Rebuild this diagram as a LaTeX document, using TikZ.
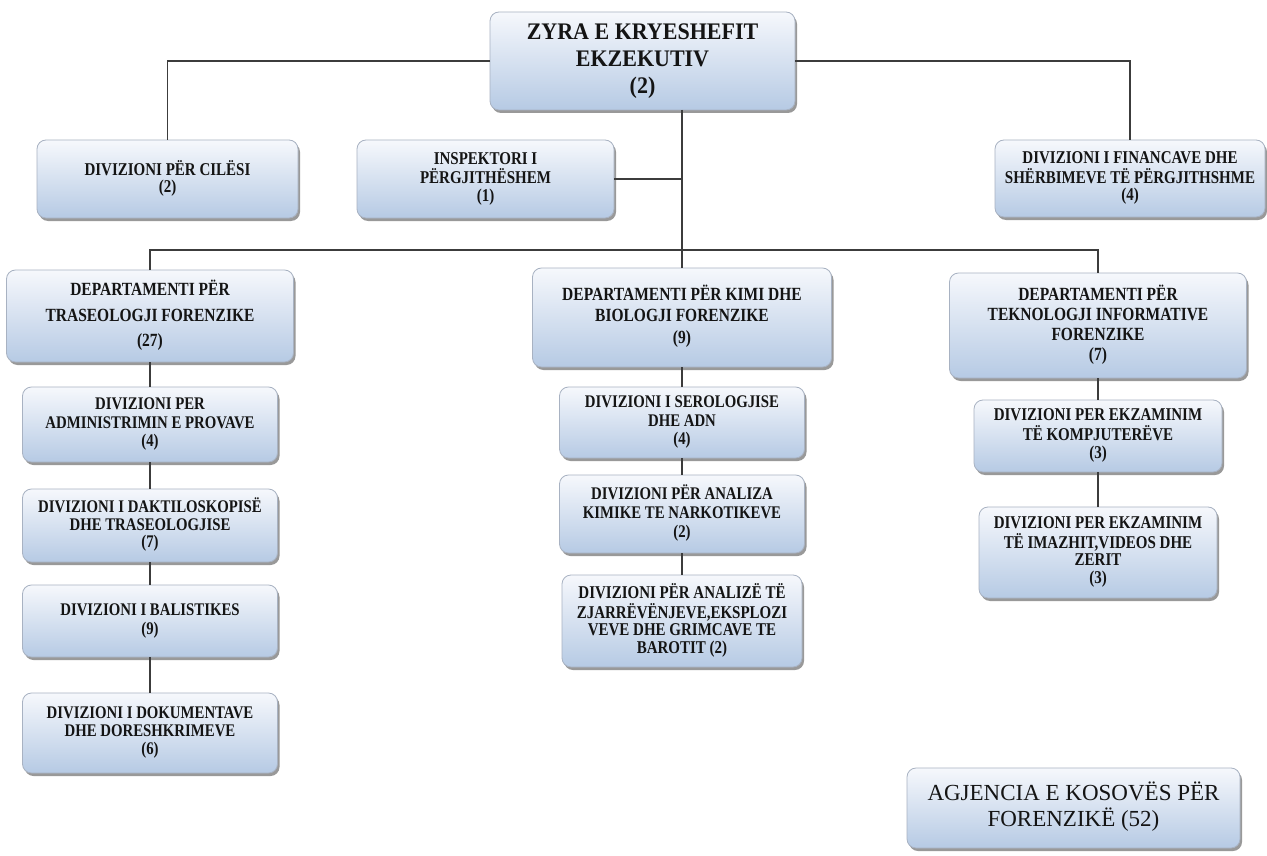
\documentclass[tikz,border=0pt]{standalone}
\usepackage{fontspec}
\setmainfont{Liberation Serif}
\usetikzlibrary{shadows}
\definecolor{boxtop}{RGB}{246,248,252}
\definecolor{boxbot}{RGB}{182,202,228}
\definecolor{boxedge}{RGB}{168,178,194}
\definecolor{linec}{RGB}{60,60,60}
\newcommand{\btx}[4]{\scalebox{1}[#1]{\fontsize{#2}{#3}\selectfont\bfseries\begin{tabular}{@{}c@{}}#4\end{tabular}}}
\begin{document}
\begin{tikzpicture}[x=1pt,y=-1pt,
  orgbox/.style={draw=boxedge, line width=0.8pt, rounded corners=9pt,
    top color=boxtop, bottom color=boxbot, inner sep=0pt, outer sep=0pt,
    drop shadow={shadow xshift=2pt, shadow yshift=-3pt, fill=black!50, opacity=0.8},
    text=black!92, align=center},
  conn/.style={draw=linec, line width=1.3pt}]
\useasboundingbox (0,0) rectangle (1267,856);
\fill[white] (0,0) rectangle (1267,856);

% top level
\node[orgbox, minimum width=305pt, minimum height=98pt] (top) at (642.5,61)
  {\raisebox{-5pt}{\btx{1.08}{22}{25}{ZYRA E KRYESHEFIT\\EKZEKUTIV\\(2)}}};
\node[orgbox, minimum width=261pt, minimum height=78pt] (cil) at (167.5,179)
  {\btx{1.2}{15}{14}{DIVIZIONI PËR CILËSI\\(2)}};
\node[orgbox, minimum width=257pt, minimum height=78pt] (insp) at (485.5,179)
  {\btx{1.2}{15}{13.3}{INSPEKTORI I\\PËRGJITHËSHEM\\(1)}};
\node[orgbox, minimum width=270pt, minimum height=77pt] (fin) at (1130,178.5)
  {\btx{1.2}{15}{13.3}{DIVIZIONI I FINANCAVE DHE\\SHËRBIMEVE TË PËRGJITHSHME\\(4)}};

% departments
\node[orgbox, minimum width=287pt, minimum height=92pt] (dep1) at (150,316)
  {\btx{1.2}{15.5}{21}{DEPARTAMENTI PËR\\TRASEOLOGJI FORENZIKE\\(27)}};
\node[orgbox, minimum width=299pt, minimum height=99pt] (dep2) at (682,317.5)
  {\btx{1.2}{15.5}{18}{DEPARTAMENTI PËR KIMI DHE\\BIOLOGJI FORENZIKE\\(9)}};
\node[orgbox, minimum width=297pt, minimum height=105pt] (dep3) at (1098,325.5)
  {\btx{1.2}{15.5}{16.7}{DEPARTAMENTI PËR\\TEKNOLOGJI INFORMATIVE\\FORENZIKE\\(7)}};

% left column
\node[orgbox, minimum width=255pt, minimum height=75pt] (adm) at (150,424.5)
  {\btx{1.2}{14.8}{15.2}{DIVIZIONI PER\\ADMINISTRIMIN E PROVAVE\\(4)}};
\node[orgbox, minimum width=255pt, minimum height=73pt] (dak) at (150,525.5)
  {\btx{1.2}{14.8}{14.6}{DIVIZIONI I DAKTILOSKOPISË\\DHE TRASEOLOGJISE\\(7)}};
\node[orgbox, minimum width=255pt, minimum height=72pt] (bal) at (150,621)
  {\btx{1.2}{14.8}{15.8}{DIVIZIONI I BALISTIKES\\(9)}};
\node[orgbox, minimum width=255pt, minimum height=80pt] (dok) at (150,733)
  {\btx{1.2}{14.8}{15}{DIVIZIONI I DOKUMENTAVE\\DHE DORESHKRIMEVE\\(6)}};

% middle column
\node[orgbox, minimum width=245pt, minimum height=71pt] (ser) at (682,422.5)
  {\btx{1.2}{14.8}{15.4}{DIVIZIONI I SEROLOGJISE\\DHE ADN\\(4)}};
\node[orgbox, minimum width=245pt, minimum height=78pt] (kim) at (682,514)
  {\btx{1.2}{14.8}{16}{DIVIZIONI PËR ANALIZA\\KIMIKE TE NARKOTIKEVE\\(2)}};
\node[orgbox, minimum width=240pt, minimum height=92pt] (zja) at (682,621)
  {\btx{1.2}{15}{14}{DIVIZIONI PËR ANALIZË TË\\ZJARRËVËNJEVE,EKSPLOZI\\VEVE DHE GRIMCAVE TE\\BAROTIT (2)}};

% right column
\node[orgbox, minimum width=248pt, minimum height=72pt] (kom) at (1098,436)
  {\btx{1.2}{15}{15}{DIVIZIONI PER EKZAMINIM\\TË KOMPJUTERËVE\\(3)}};
\node[orgbox, minimum width=238pt, minimum height=91pt] (ima) at (1098,552.5)
  {\btx{1.2}{15}{14}{DIVIZIONI PER EKZAMINIM\\TË IMAZHIT,VIDEOS DHE\\ZERIT\\(3)}};

% agency
\node[orgbox, minimum width=333pt, minimum height=80pt] (agj) at (1073.5,808)
  {\fontsize{23}{25}\selectfont\begin{tabular}{@{}c@{}}AGJENCIA E KOSOVËS PËR\\FORENZIKË (52)\end{tabular}};

% connectors
\coordinate (hub) at (682,250);
\draw[conn] (top.west) -| (cil.north);
\draw[conn] (top.east) -| (fin.north);
\draw[conn] (top.south -| hub) -- (hub);
\draw[conn] (insp.east) -- (insp.east -| hub);
\draw[conn] (dep1.north) |- (hub) -| (dep3.north);
\draw[conn] (hub) -- (dep2.north);
\draw[conn] (dep1.south) -- (adm.north);
\draw[conn] (adm.south) -- (dak.north);
\draw[conn] (dak.south) -- (bal.north);
\draw[conn] (bal.south) -- (dok.north);
\draw[conn] (dep2.south) -- (ser.north);
\draw[conn] (ser.south) -- (kim.north);
\draw[conn] (kim.south) -- (zja.north);
\draw[conn] (dep3.south) -- (kom.north);
\draw[conn] (kom.south) -- (ima.north);
\end{tikzpicture}
\end{document}
